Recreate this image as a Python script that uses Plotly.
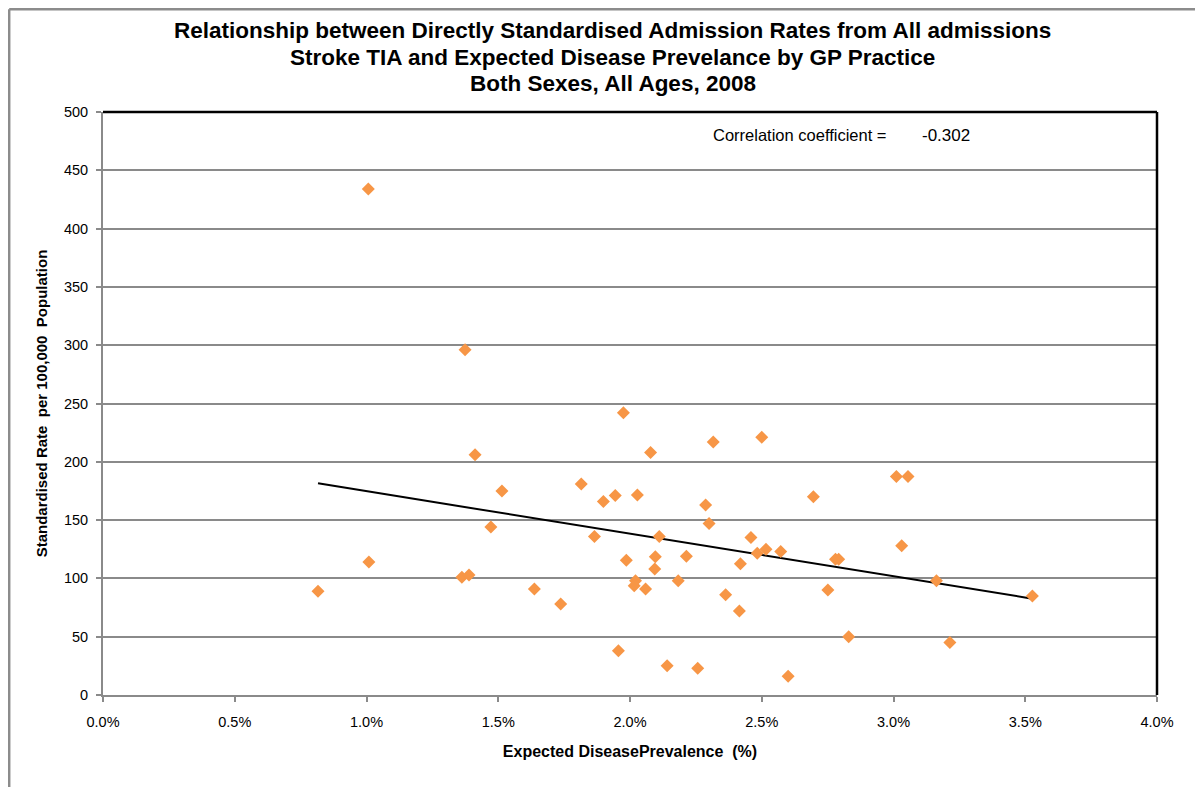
import numpy as np
import plotly.graph_objects as go

# Expected disease prevalence (%) and standardised rate per 100,000 by GP practice
prevalence = [0.816, 1.007, 1.009, 1.374, 1.362, 1.389, 1.412, 1.514, 1.472, 1.637,
              1.737, 1.815, 1.975, 2.316, 2.500, 2.078, 1.899, 1.944, 2.028, 2.287,
              2.696, 2.300, 1.865, 2.111, 2.459, 2.483, 2.516, 2.572, 1.986, 2.096,
              2.094, 2.214, 2.419, 2.780, 2.792, 2.021, 2.016, 2.059, 2.183, 2.363,
              2.415, 2.751, 1.956, 2.141, 2.257, 2.600, 2.830, 3.011, 3.055, 3.031,
              3.163, 3.527, 3.214]
rate = [89, 434, 114, 296, 101, 103, 206, 175, 144, 91,
        78, 181, 242, 217, 221, 208, 166, 171, 171.5, 163,
        170, 147, 136, 136, 135, 121.5, 125, 123, 115.5, 118.6,
        108, 119, 112.6, 116.4, 116.4, 98, 93.7, 91, 98, 86,
        72, 90, 38, 25, 23, 16, 50, 187.4, 187.4, 128,
        98, 85, 45]

corr_label = "Correlation coefficient ="
corr_value = "-0.302"

title_lines = [
    "Relationship between Directly Standardised Admission Rates from All admissions",
    "Stroke TIA and Expected Disease Prevelance by GP Practice",
    "Both Sexes, All Ages, 2008",
]

FONT = "Liberation Sans, Arial, sans-serif"
GRID = "#8a8a8a"

# linear trend line fitted to the points
slope, intercept = np.polyfit(prevalence, rate, 1)
trend_x = [min(prevalence), max(prevalence)]
trend_y = [slope * v + intercept for v in trend_x]

fig = go.Figure()
fig.add_trace(go.Scatter(x=trend_x, y=trend_y, mode="lines",
                         line=dict(color="black", width=2), hoverinfo="skip"))
fig.add_trace(go.Scatter(x=prevalence, y=rate, mode="markers",
                         marker=dict(symbol="diamond", size=10, color="#F79646",
                                     line=dict(width=0))))

# page is drawn with an 8px body offset, so margins are shifted by that much
fig.update_layout(
    width=1203, height=787,
    paper_bgcolor="white", plot_bgcolor="white",
    margin=dict(l=95, r=54, t=104, b=100),
    showlegend=False,
    font=dict(family=FONT, color="black"),
)

fig.update_xaxes(range=[0, 4], dtick=0.5, tickformat=".1f", ticksuffix="%",
                 showgrid=False, zeroline=False,
                 showline=True, linecolor=GRID, linewidth=2,
                 ticks="outside", ticklen=5, tickcolor=GRID, tickwidth=2,
                 ticklabelstandoff=8,
                 tickfont=dict(size=14.5),
                 title=dict(text="<b>Expected DiseasePrevalence  (%)</b>",
                            font=dict(size=16), standoff=16))
fig.update_yaxes(range=[0, 500], dtick=50,
                 showgrid=True, gridcolor=GRID, gridwidth=2, zeroline=False,
                 showline=True, linecolor=GRID, linewidth=2,
                 ticks="outside", ticklen=5, tickcolor=GRID, tickwidth=2,
                 ticklabelstandoff=5,
                 tickfont=dict(size=14.5),
                 title=dict(text="<b>Standardised Rate  per 100,000  Population</b>",
                            font=dict(size=15), standoff=13))

# black top/right frame of the plot area, grey outer chart border
fig.add_shape(type="line", xref="paper", yref="paper", x0=0, x1=1, y0=1, y1=1,
              line=dict(color="black", width=2.5))
fig.add_shape(type="line", xref="paper", yref="paper", x0=1, x1=1, y0=0, y1=1,
              line=dict(color="black", width=2.5))
fig.add_shape(type="line", xref="paper", yref="paper", x0=-0.089, x1=1.2, y0=1.1763, y1=1.1763,
              line=dict(color="#8c8c8c", width=2.5))
fig.add_shape(type="line", xref="paper", yref="paper", x0=-0.089, x1=-0.089, y0=-0.3, y1=1.1763,
              line=dict(color="#8c8c8c", width=2.5))

for text, ypos in zip(title_lines, [1.139, 1.0943, 1.0497]):
    fig.add_annotation(text="<b>" + text + "</b>", xref="paper", yref="paper",
                       x=0.4835, y=ypos, xanchor="center", yanchor="middle",
                       showarrow=False, font=dict(size=22.5, family=FONT))

fig.add_annotation(text=corr_label, xref="paper", yref="paper", x=0.7457, y=0.9605,
                   xanchor="right", yanchor="middle", showarrow=False,
                   font=dict(size=16.5, family=FONT))
fig.add_annotation(text=corr_value, xref="paper", yref="paper", x=0.7751, y=0.9605,
                   xanchor="left", yanchor="middle", showarrow=False,
                   font=dict(size=17, family=FONT))

fig.write_html("out.html")
